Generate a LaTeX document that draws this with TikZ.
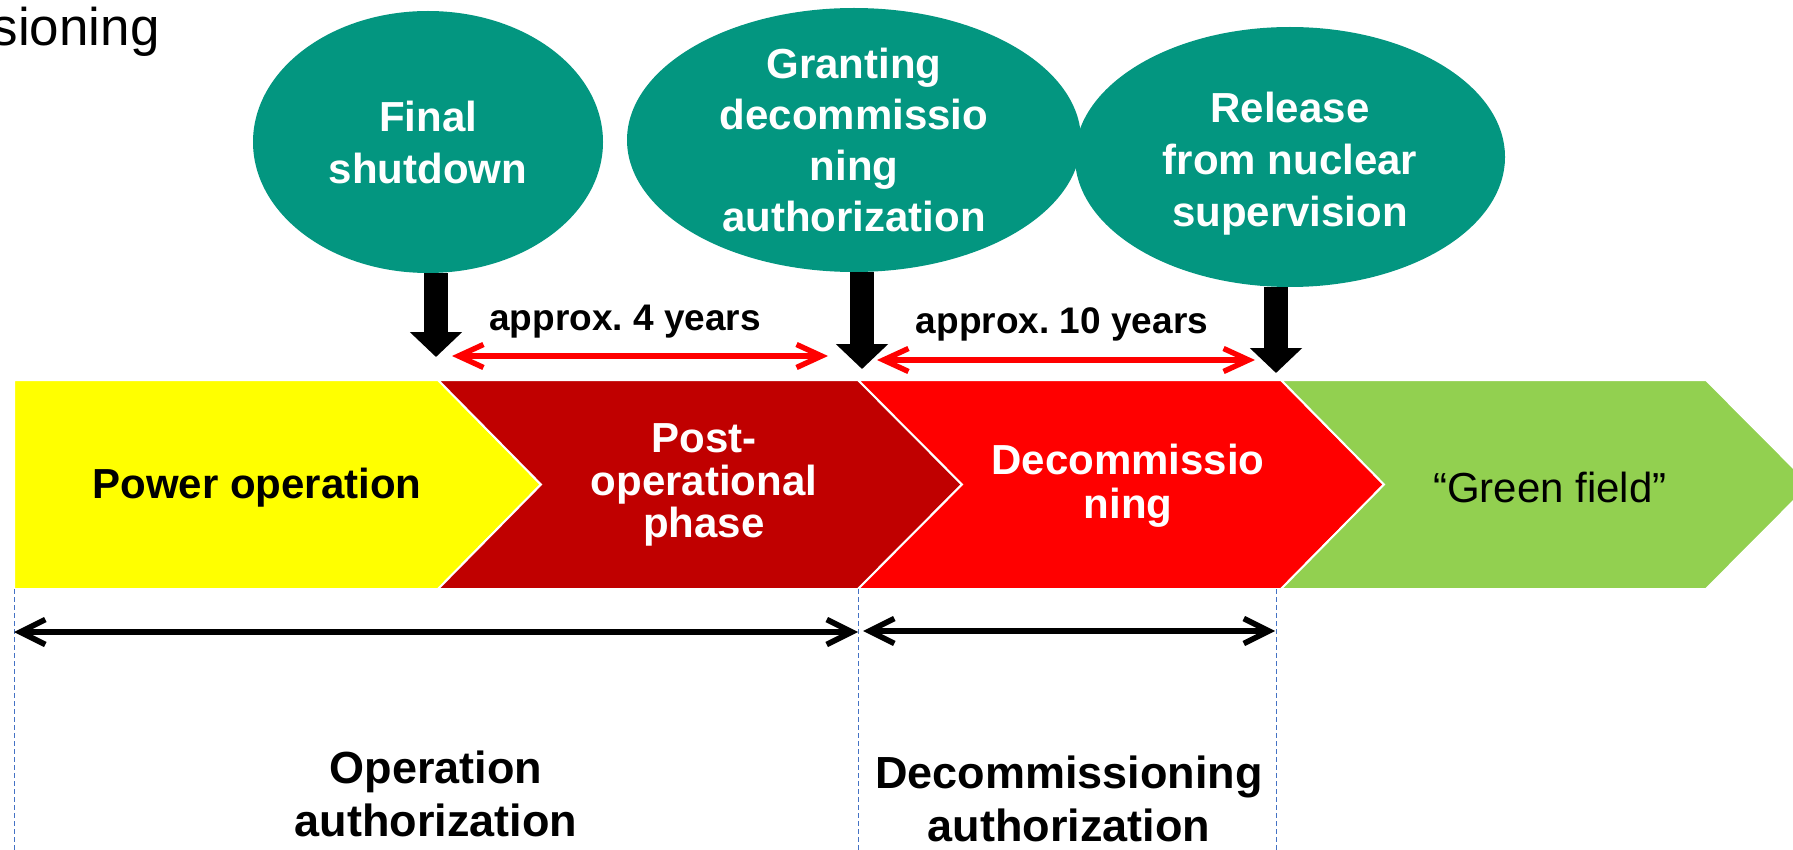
\documentclass[tikz,border=0pt]{standalone}
\usepackage{fontspec}
\setmainfont{Liberation Sans}
\usetikzlibrary{arrows.meta,shapes.geometric,calc}
\definecolor{tealc}{RGB}{3,150,128}
\definecolor{yelc}{RGB}{255,255,0}
\definecolor{dredc}{RGB}{192,0,0}
\definecolor{bredc}{RGB}{255,0,0}
\definecolor{grnc}{RGB}{146,208,80}
\definecolor{dbluec}{RGB}{68,114,196}
\frenchspacing
\begin{document}
\begin{tikzpicture}[x=0.5pt,y=-0.5pt,
  evnode/.style={ellipse, fill=tealc, inner sep=0pt, text=white, align=center,
    font=\bfseries\fontsize{21}{25.5}\selectfont},
  chev/.style={draw=white, line width=1pt},
  phtext/.style={align=center, font=\bfseries\fontsize{21}{21.25}\selectfont},
  blockarr/.style={line width=12pt, -{Triangle[length=12.5pt,width=25.5pt]}},
  redarr/.style={bredc, line width=2.7pt, {Straight Barb[length=12.5pt,width=11.5pt]}-{Straight Barb[length=12.5pt,width=11.5pt]}},
  blkarr/.style={black, line width=2.8pt, {Straight Barb[length=12.5pt,width=12.5pt]}-{Straight Barb[length=12.5pt,width=12.5pt]}},
  yrlabel/.style={anchor=base, font=\bfseries\fontsize{18.5}{22}\selectfont},
  authlabel/.style={align=center, font=\bfseries\fontsize{22.5}{26.5}\selectfont},
  guide/.style={dbluec, line width=0.5pt, dash pattern=on 2.5pt off 1.5pt}
]
\useasboundingbox (0,0) rectangle (1793,850);

% title fragment
\node[anchor=base east, inner sep=0pt, font=\fontsize{26.5}{31}\selectfont] (ttl) at (160,46) {sioning};

% phase chevrons
\fill[yelc, chev] (14,380) -- (438,380) -- (541,484.5) -- (438,589) -- (14,589) -- cycle;
\fill[dredc, chev] (438,380) -- (858,380) -- (962,484.5) -- (858,589) -- (438,589) -- (541,484.5) -- cycle;
\fill[bredc, chev] (858,380) -- (1281,380) -- (1384,484.5) -- (1281,589) -- (858,589) -- (962,484.5) -- cycle;
\fill[grnc, chev] (1281,380) -- (1706,380) -- (1810,484.5) -- (1706,589) -- (1281,589) -- (1384,484.5) -- cycle;

\node[anchor=base, inner sep=0pt, font=\bfseries\fontsize{21}{25}\selectfont] (pw) at (257,498) {Power operation};
\node[phtext, text=white, inner sep=0pt] (pop) at (704,485) {Post-\\operational\\phase};
\node[align=center, inner sep=0pt, text=white, font=\bfseries\fontsize{21}{22}\selectfont] (dec) at (1128,486) {Decommissio\\ning};
\node[anchor=base, inner sep=0pt, font=\fontsize{21}{25}\selectfont] (gf) at (1550,502) {``Green field''};

% milestone ellipses
\node[evnode, minimum width=175pt, minimum height=131pt, font=\bfseries\fontsize{21}{26}\selectfont] (fs) at (428,142) {Final\\shutdown};
\node[evnode, minimum width=227pt, minimum height=132pt] (gr) at (854,140) {Granting\\decommissio\\ning\\authorization};
\node[evnode, minimum width=215pt, minimum height=130pt, font=\bfseries\fontsize{21}{26}\selectfont] (rl) at (1290,157) {\rule{0pt}{21.5pt}Release\\from nuclear\\supervision};

% block arrows
\coordinate (t1) at (436,357);
\coordinate (t2) at (862,369);
\coordinate (t3) at (1276,373);
\draw[blockarr] (fs.south -| t1) -- (t1);
\draw[blockarr] (gr.south -| t2) -- (t2);
\draw[blockarr] (rl.south -| t3) -- (t3);

% durations
\coordinate (r1a) at (452,356);
\coordinate (r1b) at (828,356);
\coordinate (r2a) at (877,360);
\coordinate (r2b) at (1255,360);
\draw[redarr] (r1a) -- (r1b);
\draw[redarr] (r2a) -- (r2b);
\node[yrlabel, inner sep=0pt] (y4) at (625,330) {approx. 4 years};
\node[yrlabel, inner sep=0pt] (y10) at (1062,333) {approx. 10 years};

% guides
\coordinate (g1a) at (14,589);   \coordinate (g1b) at (14,850);
\coordinate (g2a) at (858,589);  \coordinate (g2b) at (858,850);
\coordinate (g3a) at (1276,589); \coordinate (g3b) at (1276,850);
\draw[guide] (g1a) -- (g1b);
\draw[guide] (g2a) -- (g2b);
\draw[guide] (g3a) -- (g3b);

% authorization spans
\coordinate (b1a) at (14,632);
\coordinate (b1b) at (858,632);
\coordinate (b2a) at (863,631);
\coordinate (b2b) at (1275,631);
\draw[blkarr] (b1a) -- (b1b);
\draw[blkarr] (b2a) -- (b2b);
\node[authlabel, inner sep=0pt] (oa) at (436,794) {Operation\\authorization};
\node[authlabel, inner sep=0pt] (da) at (1069,799) {Decommissioning\\authorization};
\end{tikzpicture}
\end{document}
